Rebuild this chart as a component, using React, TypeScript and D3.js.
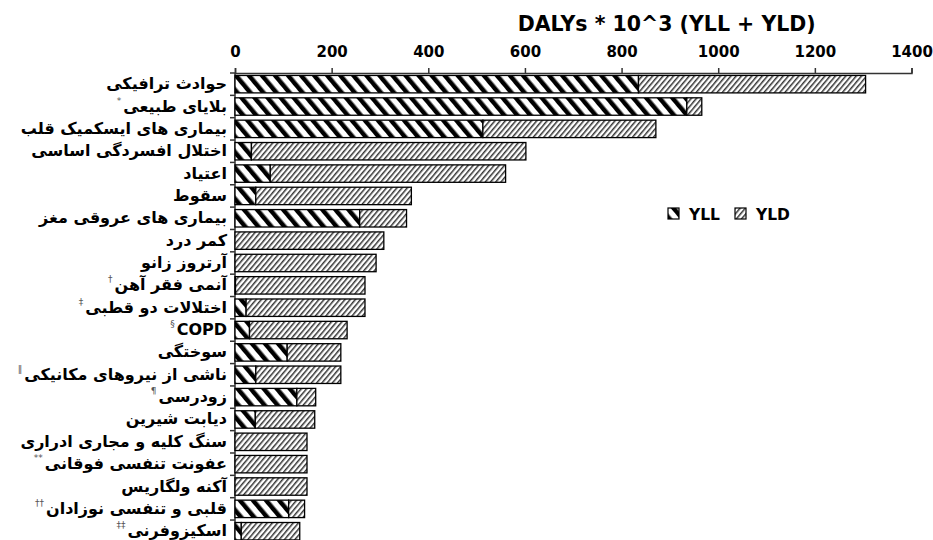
import React, { useEffect, useRef } from 'react';
import * as d3 from 'd3';

// disease groups, top to bottom
const categories = [
  'حوادث ترافیکی',
  'بلایای طبیعی',
  'بیماری های ایسکمیک قلب',
  'اختلال افسردگی اساسی',
  'اعتیاد',
  'سقوط',
  'بیماری های عروقی مغز',
  'کمر درد',
  'آرتروز زانو',
  'آنمی فقر آهن',
  'اختلالات دو قطبی',
  'COPD',
  'سوختگی',
  'ناشی از نیروهای مکانیکی',
  'زودرسی',
  'دیابت شیرین',
  'سنگ کلیه و مجاری ادراری',
  'عفونت تنفسی فوقانی',
  'آکنه ولگاریس',
  'قلبی و تنفسی نوزادان',
  'اسکیزوفرنی',
];

const footnotes = ['', '*', '', '', '', '', '', '', '', '†', '‡', '§', '', '‖', '¶', '', '', '**', '', '††', '‡‡'];

const yllValues = [835, 935, 513, 34, 73, 43, 258, 0, 0, 1, 23, 30, 108, 43, 128, 42, 0, 0, 0, 111, 13];
const yldValues = [470, 31, 358, 568, 487, 322, 97, 308, 292, 268, 246, 202, 111, 176, 39, 123, 149, 149, 149, 33, 121];

const xTicks = [0, 200, 400, 600, 800, 1000, 1200, 1400];
const seriesNames = ['YLL', 'YLD'];

const FONT = '"DejaVu Sans", Verdana, sans-serif';

const App = () => {
  const svgRef = useRef<SVGSVGElement>(null);

  useEffect(() => {
    if (!svgRef.current) return;
    const svg = d3.select(svgRef.current);
    svg.selectAll('*').remove();

    const x = d3.scaleLinear().domain([0, 1400]).range([235, 911.5]);
    const y = d3.scaleBand<string>()
      .domain(categories)
      .range([73, 542.4])
      .paddingInner(0.22)
      .paddingOuter(0.11);

    // hatch patterns
    const defs = svg.append('defs');
    const yll = defs.append('pattern')
      .attr('id', 'pat-yll')
      .attr('patternUnits', 'userSpaceOnUse')
      .attr('width', 10).attr('height', 10)
      .attr('patternTransform', 'rotate(-40)');
    yll.append('rect').attr('width', 10).attr('height', 10).attr('fill', '#fff');
    yll.append('rect').attr('width', 4.5).attr('height', 10).attr('fill', '#000');

    const yld = defs.append('pattern')
      .attr('id', 'pat-yld')
      .attr('patternUnits', 'userSpaceOnUse')
      .attr('width', 4).attr('height', 4)
      .attr('patternTransform', 'rotate(40)');
    yld.append('rect').attr('width', 4).attr('height', 4).attr('fill', '#fff');
    yld.append('rect').attr('width', 1.5).attr('height', 4).attr('fill', '#333');

    const fills = ['url(#pat-yll)', 'url(#pat-yld)'];

    // title
    svg.append('text')
      .attr('x', 666.7)
      .attr('y', 31)
      .attr('text-anchor', 'middle')
      .style('font-family', FONT)
      .style('font-size', '20.5px')
      .style('font-weight', 'bold')
      .text('DALYs * 10^3 (YLL + YLD)');

    // top axis
    const xAxis = svg.append('g')
      .attr('transform', 'translate(0,73)')
      .call(d3.axisTop(x).tickValues(xTicks).tickFormat(d3.format('d')).tickSize(5).tickSizeOuter(5).tickPadding(11));
    xAxis.select('.domain').attr('stroke', '#333').attr('stroke-width', 1.5);
    xAxis.selectAll('.tick line').attr('stroke', '#333').attr('stroke-width', 1.5);
    xAxis.selectAll('text')
      .attr('fill', '#000')
      .style('font-family', FONT)
      .style('font-size', '15px')
      .style('font-weight', 'bold');

    // left axis with ticks between bands
    const step = y.step();
    svg.append('line')
      .attr('x1', 235).attr('x2', 235)
      .attr('y1', 73).attr('y2', 545)
      .attr('stroke', '#333').attr('stroke-width', 1.5);
    d3.range(categories.length + 1).forEach(i => {
      svg.append('line')
        .attr('x1', 230).attr('x2', 235)
        .attr('y1', 73 + i * step).attr('y2', 73 + i * step)
        .attr('stroke', '#333').attr('stroke-width', 1.5);
    });

    // stacked bars
    const rows = categories.map((c, i) => ({ cat: c, YLL: yllValues[i], YLD: yldValues[i] }));
    const stacked = d3.stack<any>().keys(seriesNames)(rows);
    stacked.forEach((layer, li) => {
      svg.append('g')
        .selectAll('rect')
        .data(layer)
        .enter()
        .filter(d => d[1] - d[0] > 0)
        .append('rect')
        .attr('x', d => x(d[0]))
        .attr('y', d => y(d.data.cat) as number)
        .attr('width', d => x(d[1]) - x(d[0]))
        .attr('height', y.bandwidth())
        .attr('fill', fills[li])
        .attr('stroke', '#000')
        .attr('stroke-width', 1.3);
    });

    // category labels
    categories.forEach((c, i) => {
      const cy = (y(c) as number) + y.bandwidth() / 2;
      const label = svg.append('text')
        .attr('x', 227)
        .attr('y', cy + 5)
        .attr('text-anchor', 'end')
        .style('font-family', FONT)
        .style('font-size', '16px')
        .style('font-weight', 'bold')
        .text(c);
      if (footnotes[i]) {
        const bb = (label.node() as SVGTextElement).getBBox();
        svg.append('text')
          .attr('x', bb.x - 2)
          .attr('y', cy - 3)
          .attr('text-anchor', 'end')
          .style('font-family', FONT)
          .style('font-size', '9px')
          .attr('fill', '#555')
          .text(footnotes[i]);
      }
    });

    // legend
    const legendX = [668, 735];
    seriesNames.forEach((s, i) => {
      svg.append('rect')
        .attr('x', legendX[i]).attr('y', 208)
        .attr('width', 11).attr('height', 11)
        .attr('fill', fills[i])
        .attr('stroke', '#000').attr('stroke-width', 1.2);
      svg.append('text')
        .attr('x', legendX[i] + 21)
        .attr('y', 220)
        .style('font-family', FONT)
        .style('font-size', '15.5px')
        .style('font-weight', 'bold')
        .text(s);
    });
  }, []);

  return (
    <svg
      ref={svgRef}
      width={933}
      height={540}
      style={{ position: 'absolute', left: 0, top: 0, background: '#fff' }}
    />
  );
};

export default App;
